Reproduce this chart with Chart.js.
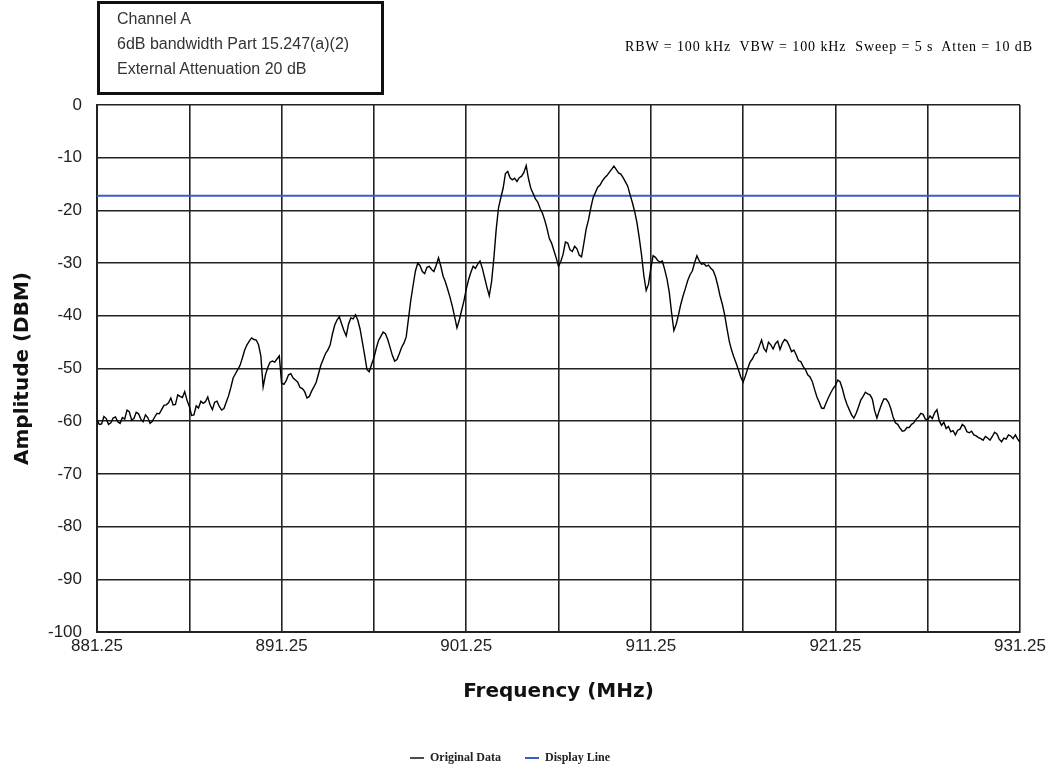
<!DOCTYPE html>
<html>
<head>
<meta charset="utf-8">
<script src="https://cdn.jsdelivr.net/npm/chart.js@4.4.1/dist/chart.umd.min.js"></script>
<style>
  body { margin: 0; background: #fff; }
  #wrap { position: relative; width: 1053px; height: 774px; }
  #infoBox {
    position: absolute; left: 97px; top: 1px; width: 264px; height: 86px;
    border: 3px solid #111; font: 16px "Liberation Sans", Arial, sans-serif;
    color: #333; line-height: 25px; padding: 2px 0 0 17px; box-sizing: content-box;
  }
  #settings {
    position: absolute; left: 625px; top: 39px; white-space: nowrap;
    font: 14px "Liberation Serif", "Times New Roman", serif; color: #000; letter-spacing: 0.9px;
  }
</style>
</head>
<body>
<div id="wrap">
  <canvas id="myChart" width="1053" height="774"></canvas>
  <div id="infoBox">Channel A<br>6dB bandwidth Part 15.247(a)(2)<br>External Attenuation 20 dB</div>
  <div id="settings">RBW = 100 kHz&nbsp; VBW = 100 kHz&nbsp; Sweep = 5 s&nbsp; Atten = 10 dB</div>
</div>
<script>
// Sweep: 881.25 to 931.25 MHz, one reading every 0.125 MHz
const startFreq = 881.25;
const stepFreq = 0.125;

// Amplitude readings (dBm) (one row = 1 MHz)
const amplitudes = [
  -59.8, -60.6, -60.5, -59.1, -59.5, -60.6, -60.3, -59.4,
  -59.2, -60.1, -60.4, -59.3, -59.6, -57.9, -58.2, -59.8,
  -59.5, -58.3, -58.6, -59.6, -60.1, -58.8, -59.3, -60.4,
  -60.0, -59.2, -58.5, -58.6, -57.8, -57.0, -56.9, -56.5,
  -55.6, -56.9, -56.8, -55.0, -55.3, -55.5, -54.4, -56.0,
  -57.2, -58.9, -58.8, -57.1, -57.5, -56.2, -56.6, -56.3,
  -55.4, -56.9, -57.8, -56.4, -56.2, -57.2, -57.9, -57.6,
  -56.4, -55.2, -53.6, -51.8, -51.0, -50.2, -49.4, -48.0,
  -46.5, -45.5, -44.8, -44.2, -44.5, -44.6, -45.5, -47.6,
  -53.5, -51.2, -49.8, -48.8, -48.6, -48.8, -48.2, -47.6,
  -52.8, -53.0, -52.3, -51.2, -51.0, -51.8, -52.2, -52.6,
  -53.6, -53.8, -54.4, -55.6, -55.3, -54.3, -53.5, -52.6,
  -51.0, -49.4, -48.3, -47.2, -46.5, -45.6, -43.5, -41.8,
  -40.8, -40.2, -41.5, -42.8, -43.8, -41.6, -40.4, -40.6,
  -39.8, -40.8, -42.5, -45.0, -47.5, -50.2, -50.6, -49.2,
  -48.0, -46.2, -44.7, -43.9, -43.1, -43.4, -44.5, -46.0,
  -47.5, -48.6, -48.3, -47.2, -46.0, -45.2, -44.0, -40.5,
  -37.0, -34.2, -31.5, -30.0, -30.5, -31.6, -32.0, -30.8,
  -30.6, -31.2, -31.6, -30.4, -29.0, -30.6, -32.5, -33.6,
  -35.0, -36.5, -38.2, -40.2, -42.3, -40.8, -39.0, -37.2,
  -35.0, -33.2, -31.8, -30.6, -31.0, -30.2, -29.6, -31.0,
  -32.8, -34.6, -36.2, -33.5, -29.0, -23.6, -19.5, -17.6,
  -15.8, -13.0, -12.6, -13.8, -14.2, -13.9, -14.5, -13.8,
  -13.5, -12.8, -11.5, -14.0, -15.8, -16.8, -17.8, -18.4,
  -19.6, -20.5, -21.8, -23.4, -25.3, -26.2, -27.6, -29.0,
  -30.6, -29.7, -28.3, -26.0, -26.2, -27.5, -27.8, -26.8,
  -27.3, -28.5, -28.8, -26.2, -23.5, -21.8, -19.5, -17.6,
  -16.6, -15.6, -15.2, -14.4, -13.8, -13.4, -12.8, -12.2,
  -11.6, -12.2, -12.9, -13.1, -13.8, -14.6, -15.4, -17.0,
  -18.5, -20.2, -22.3, -25.2, -28.5, -32.4, -35.2, -34.0,
  -31.0, -28.6, -28.9, -29.5, -29.8, -29.6, -31.2, -33.0,
  -35.5, -39.4, -42.8, -41.6, -39.8, -37.8, -36.2, -34.8,
  -33.3, -32.2, -31.5, -29.9, -28.6, -29.6, -30.2, -30.1,
  -30.6, -30.4, -31.0, -31.4, -32.5, -34.2, -36.2, -37.8,
  -39.8, -42.4, -44.8, -46.5, -47.8, -49.0, -50.3, -51.6,
  -52.6, -51.4, -50.0, -48.8, -48.2, -47.3, -47.0, -45.8,
  -44.6, -46.2, -46.8, -45.0, -45.5, -46.3, -45.3, -44.8,
  -46.4, -45.2, -44.5, -44.8, -45.7, -46.8, -46.5, -47.4,
  -48.5, -48.7, -49.6, -50.2, -51.2, -51.6, -52.5, -54.0,
  -55.4, -56.4, -57.5, -57.6, -56.5, -55.5, -54.6, -53.8,
  -53.2, -52.2, -52.5, -53.8, -55.5, -56.8, -57.8, -58.8,
  -59.4, -58.5, -57.3, -56.0, -55.3, -54.5, -54.8, -55.0,
  -55.8, -58.0, -59.4, -58.0, -56.8, -55.8, -55.8, -56.4,
  -57.6, -59.2, -60.3, -60.6, -61.3, -61.9, -61.8, -61.2,
  -61.2, -60.6, -60.3, -59.6, -59.2, -58.5, -58.7, -59.6,
  -59.7, -59.0, -59.5, -58.4, -57.8, -59.9, -60.8, -60.2,
  -61.4, -61.0, -62.0, -61.8, -62.6, -61.7, -61.5, -60.6,
  -61.0, -62.0, -62.2, -61.9, -62.6, -62.8, -63.1, -63.3,
  -63.6, -62.9, -63.2, -63.6, -62.9, -62.1, -62.4, -63.4,
  -63.9, -63.2, -63.4, -62.6, -62.8, -63.3, -62.6, -63.4,
  -64.0
];

const displayLevel = -17.2;
const freqTicks = [881.25, 886.25, 891.25, 896.25, 901.25, 906.25, 911.25, 916.25, 921.25, 926.25, 931.25];
const labeledFreqs = [881.25, 891.25, 901.25, 911.25, 921.25, 931.25];
const ampTicks = [0, -10, -20, -30, -40, -50, -60, -70, -80, -90, -100];

const traceData = amplitudes.map((a, i) => ({ x: startFreq + i * stepFreq, y: a }));
const lineData = [
  { x: freqTicks[0], y: displayLevel },
  { x: freqTicks[freqTicks.length - 1], y: displayLevel }
];

const ctx = document.getElementById('myChart').getContext('2d');
new Chart(ctx, {
  type: 'line',
  data: {
    datasets: [
      {
        label: 'Original Data',
        data: traceData,
        borderColor: '#000',
        borderWidth: 1.4,
        pointRadius: 0,
        pointStyle: 'line',
        tension: 0
      },
      {
        label: 'Display Line',
        data: lineData,
        borderColor: '#3a5bcc',
        borderWidth: 2,
        pointRadius: 0,
        pointStyle: 'line'
      }
    ]
  },
  options: {
    responsive: false,
    animation: false,
    devicePixelRatio: 1,
    layout: { padding: { left: 0, top: 105, right: 33, bottom: 0 } },
    plugins: {
      tooltip: { enabled: false },
      legend: {
        position: 'bottom',
        labels: {
          usePointStyle: true,
          pointStyleWidth: 14,
          padding: 24,
          color: '#222',
          font: { family: '"Liberation Serif", "Times New Roman", serif', size: 12, weight: 'bold' }
        }
      }
    },
    scales: {
      x: {
        type: 'linear',
        min: 881.25,
        max: 931.25,
        afterBuildTicks: s => { s.ticks = freqTicks.map(v => ({ value: v })); },
        afterFit: s => { s.height = 96; },
        grid: { color: '#222', lineWidth: 1.6, drawTicks: false },
        border: { color: '#222', width: 2 },
        ticks: {
          autoSkip: false,
          maxRotation: 0,
          padding: 4,
          color: '#222',
          font: { family: '"Liberation Sans", Arial, sans-serif', size: 17 },
          callback: v => labeledFreqs.includes(v) ? v.toFixed(2) : ''
        },
        title: {
          display: true,
          text: 'Frequency (MHz)',
          color: '#111',
          padding: { top: 0, bottom: 24 },
          font: { family: '"DejaVu Sans", Verdana, sans-serif', size: 20, weight: 'bold' }
        }
      },
      y: {
        min: -100,
        max: 0,
        afterBuildTicks: s => { s.ticks = ampTicks.map(v => ({ value: v })); },
        afterFit: s => { s.width = 97; },
        grid: { color: '#222', lineWidth: 1.6, drawTicks: false },
        border: { color: '#222', width: 2 },
        ticks: {
          padding: 15,
          color: '#222',
          font: { family: '"Liberation Sans", Arial, sans-serif', size: 17 },
          callback: v => String(v)
        },
        title: {
          display: true,
          text: 'Amplitude (DBM)',
          color: '#111',
          padding: { top: 11, bottom: 0 },
          font: { family: '"DejaVu Sans", Verdana, sans-serif', size: 20, weight: 'bold' }
        }
      }
    }
  }
});
</script>
</body>
</html>
